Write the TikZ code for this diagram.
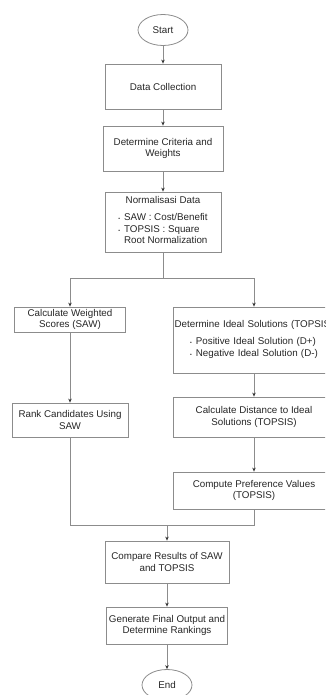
\documentclass[tikz,border=0pt]{standalone}
\usepackage{fontspec}
\setmainfont{Liberation Sans}
\usepackage{tikz}
\usetikzlibrary{shapes.geometric,arrows.meta}
\tikzset{
    process/.style={rectangle, draw=black!45, line width=0.8pt, align=center, inner sep=2pt, text=black!85},
    terminal/.style={ellipse, draw=black!45, line width=0.8pt, minimum width=50pt, minimum height=31pt, inner sep=0pt, text=black!85},
    flow/.style={draw=black!45, line width=0.8pt, -{Stealth[length=4pt, width=3.5pt, color=black!80]}},
    link/.style={draw=black!45, line width=0.8pt}
}
\newcommand{\bul}{{\tiny\textbullet}}

\begin{document}
\begin{tikzpicture}[x=1pt, y=-1pt, font=\fontsize{9.8}{11.8}\selectfont]
    \useasboundingbox (0,0) rectangle (325,695);
    \clip (0,0) rectangle (325,695);

    \node[terminal] (start) at (163,30) {Start};
    \node[process, minimum width=116pt, minimum height=45pt] (collect) at (163,86.5) {Data Collection};
    \node[process, minimum width=120pt, minimum height=45pt] (criteria) at (163,148.5) {Determine Criteria and\\Weights};
    \node[process, minimum width=116pt, minimum height=60pt] (norm) at (163,222) {Normalisasi Data\\[5pt]
        \begin{tabular}[t]{@{}l@{\hspace{4pt}}l@{}}\bul & SAW : Cost/Benefit\\ \bul & TOPSIS : Square\\ & Root Normalization\end{tabular}};

    \coordinate (split) at (163,278);
    \coordinate (splitL) at (70,278);
    \coordinate (splitR) at (254,278);

    \node[process, minimum width=111pt, minimum height=25pt] (saw) at (70,319.5) {Calculate Weighted\\Scores (SAW)};
    \node[process, minimum width=116pt, minimum height=34pt] (rank) at (70,420) {Rank Candidates Using\\SAW};
    \node[process, minimum width=162pt, minimum height=66pt, text width=156pt] (ideal) at (254,340) {\makebox[0pt]{Determine Ideal Solutions (TOPSIS)}\\[5pt]
        \begin{tabular}[t]{@{}l@{\hspace{4pt}}l@{}}\bul & Positive Ideal Solution (D+)\\ \bul & Negative Ideal Solution (D-)\end{tabular}};
    \node[process, minimum width=162pt, minimum height=40pt] (dist) at (254,417) {Calculate Distance to Ideal\\Solutions (TOPSIS)};
    \node[process, minimum width=162pt, minimum height=37pt] (pref) at (254,490.5) {Compute Preference Values\\(TOPSIS)};

    \coordinate (joinL) at (70,525);
    \coordinate (joinR) at (254,525);
    \coordinate (join) at (167,525);

    \node[process, minimum width=124pt, minimum height=42pt] (compare) at (167,562) {Compare Results of SAW\\and TOPSIS};
    \node[process, minimum width=121pt, minimum height=37pt] (generate) at (167,625.5) {Generate Final Output and\\Determine Rankings};
    \node[terminal] (stop) at (167,685) {End};

    \draw[flow] (start) -- (collect);
    \draw[flow] (collect) -- (criteria);
    \draw[flow] (criteria) -- (norm);
    \draw[link] (norm) -- (split);
    \draw[link] (splitL) -- (splitR);
    \draw[flow] (splitL) -- (saw);
    \draw[flow] (splitR) -- (ideal);
    \draw[flow] (saw) -- (rank);
    \draw[flow] (ideal) -- (dist);
    \draw[flow] (dist) -- (pref);
    \draw[link] (rank) -- (joinL) -- (joinR) -- (pref);
    \draw[flow] (join) -- (compare);
    \draw[flow] (compare) -- (generate);
    \draw[flow] (generate) -- (stop);
\end{tikzpicture}
\end{document}
